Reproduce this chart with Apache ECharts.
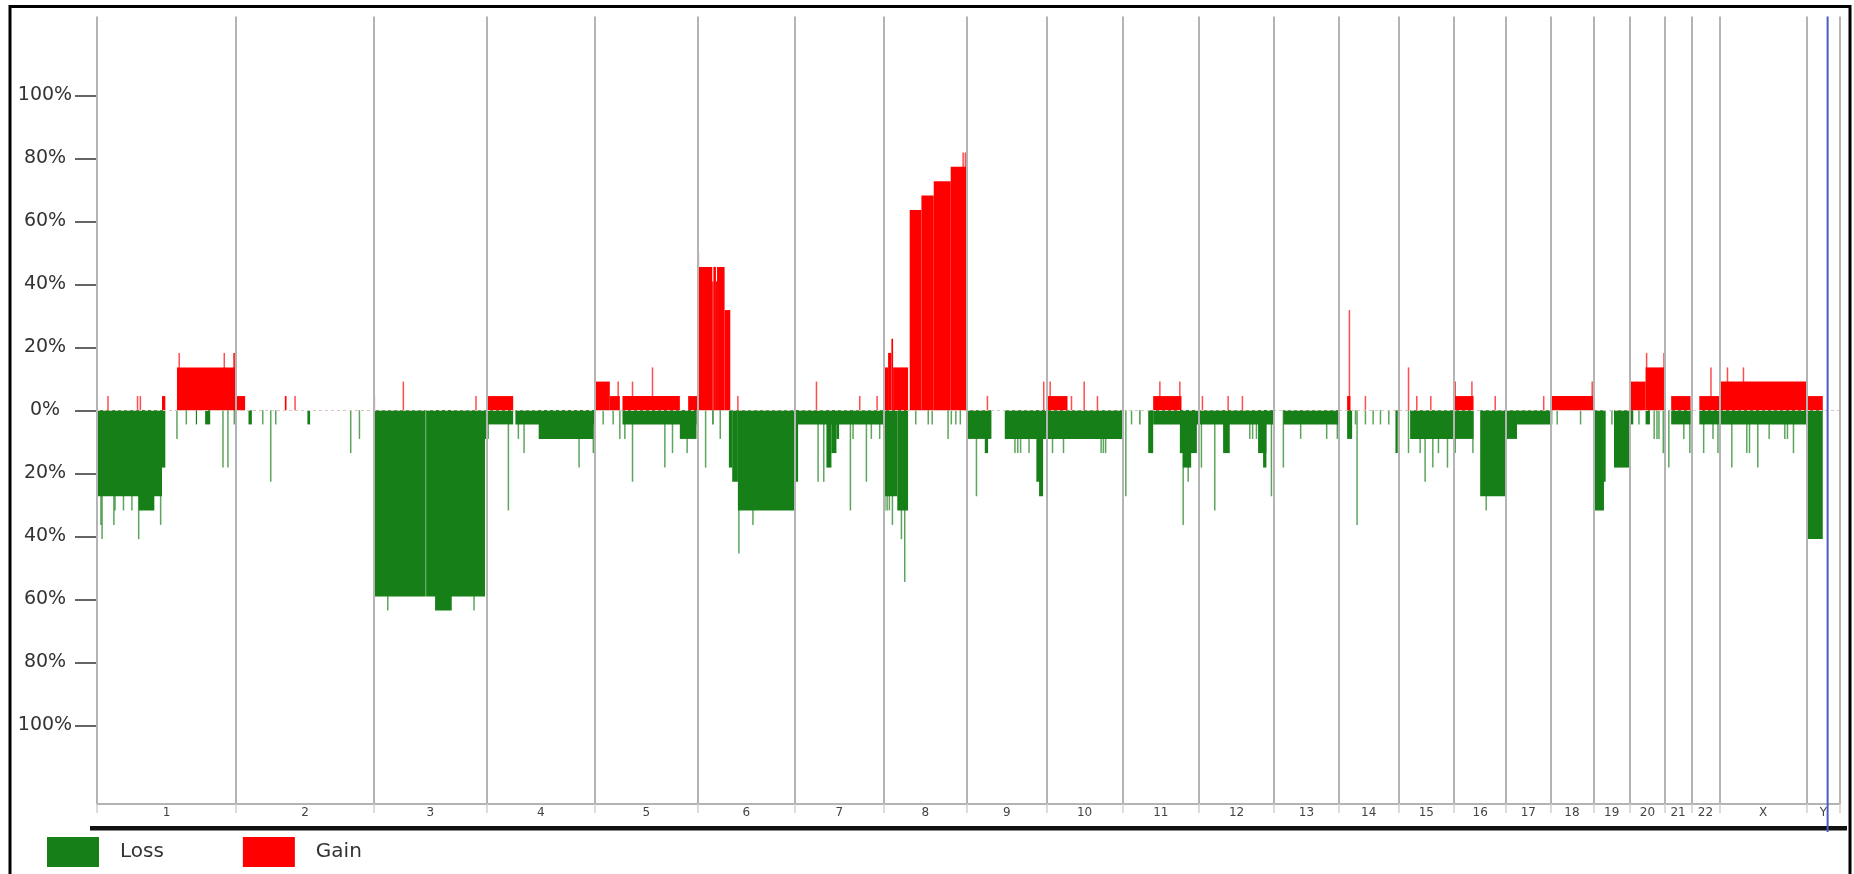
<!DOCTYPE html>
<html>
<head>
<meta charset="utf-8">
<script src="https://cdn.jsdelivr.net/npm/echarts@6/dist/echarts.min.js"></script>
<style>
  html, body { margin: 0; padding: 0; background: #ffffff; }
  #chart { width: 1854px; height: 874px; }
</style>
</head>
<body>
<div id="chart"></div>
<script>
// Chromosomes along the genome axis and their lengths (Mb)
const chromNames = ['1','2','3','4','5','6','7','8','9','10','11','12','13','14','15','16','17','18','19','20','21','22','X','Y'];
const chromLengthsMb = [247,245,200,192,183,172,158,148,141,135,136,133,115,106,99,92,79,76,65,62,47,50,155,59];

// Frequency ticks (%), drawn as absolute values on both sides of zero
const yTickValues = [-100,-80,-60,-40,-20,0,20,40,60,80,100];

// Copy-number segments: [chromosome, start Mb, end Mb, frequency %]
const gainSegments = [
  ['1',115.4,121.3,4.5], ['1',142,247,13.6],
  ['2',0,16,4.5], ['2',86.5,89.5,4.5],
  ['4',0,47,4.5],
  ['5',0,26.6,9.1], ['5',26.6,44.4,4.5], ['5',49.1,151,4.5], ['5',165.7,183,4.5],
  ['6',0,1.8,50], ['6',1.8,25.5,45.5], ['6',25.5,27.5,40.9], ['6',27.5,32,45.5], ['6',32,34,40.9], ['6',34,47.4,45.5], ['6',47.4,57.5,31.8],
  ['8',0,7.7,13.6], ['8',7.7,13.6,18.2], ['8',13.6,16.6,22.7], ['8',16.6,43.2,13.6],
  ['8',46.1,66.9,63.6], ['8',66.9,88.8,68.2], ['8',88.8,118.9,72.7], ['8',118.9,148,77.3],
  ['10',0,37.3,4.5],
  ['11',54.4,104.7,4.5],
  ['14',14.8,20.7,4.5],
  ['16',0,34.3,4.5],
  ['18',0,76,4.5],
  ['20',0,27.8,9.1], ['20',27.8,60.4,13.6],
  ['21',11.2,45.6,4.5],
  ['22',14.2,50,4.5],
  ['X',0,155,9.1],
  ['Y',0,28.4,4.5]
];

const lossSegments = [
  ['1',0,115.4,27.3], ['1',74,101.8,31.8], ['1',115.4,121.3,18.2], ['1',175.5,177.5,4.5], ['1',192,201,4.5],
  ['2',22,28,4.5], ['2',126.6,131.4,4.5],
  ['3',0,91.6,59.1], ['3',92.4,197,59.1], ['3',197,200,9.1], ['3',108.3,137.9,63.6],
  ['4',0,47,4.5], ['4',0,3.5,9.1], ['4',50.9,192,4.5], ['4',92.3,189.3,9.1],
  ['5',49.1,180.5,4.5], ['5',150.9,180.5,9.1],
  ['6',25.5,28,4.5], ['6',55,60.9,18.2], ['6',60.9,71,22.7], ['6',71,172,31.8],
  ['7',0,158,4.5], ['7',0,5.9,22.7], ['7',56.2,65.1,18.2], ['7',65.1,74,13.6], ['7',74,78.7,9.1],
  ['8',0,24,27.3], ['8',24,43.2,31.8],
  ['9',0,43.2,9.1], ['9',31.4,37.3,13.6], ['9',66.9,141,9.1], ['9',123,134.9,22.7], ['9',127.8,134.9,27.3],
  ['10',0,135,9.1],
  ['11',29.8,31.8,4.5], ['11',45.6,54.4,13.6], ['11',54.4,136,4.5], ['11',101.8,132,13.6], ['11',107.1,121.9,18.2],
  ['12',0,133,4.5], ['12',42.6,54.4,13.6], ['12',104.7,119.5,13.6], ['12',113.6,119.5,18.2],
  ['13',16.6,115,4.5],
  ['14',14.8,23.7,9.1], ['14',100.6,104.7,13.6],
  ['15',20.7,99,9.1],
  ['16',0,34.3,9.1], ['16',46.1,92,27.3],
  ['17',0,19.5,9.1], ['17',19.5,79,4.5],
  ['19',0,18.9,31.8], ['19',18.9,21.9,22.7], ['19',36.7,65,18.2],
  ['20',0,5.9,4.5], ['20',27.8,35.5,4.5],
  ['21',11.2,45.6,4.5],
  ['22',14.2,50,4.5],
  ['X',0,155,4.5],
  ['Y',0,28.4,40.9]
];

// Single-probe calls: [chromosome, position Mb, frequency %]
const gainSpikes = [
  ['1',19.5,4.5], ['1',72,4.5], ['1',77,4.5], ['1',146,18.2], ['1',226,18.2], ['1',243,18.2], ['1',244.5,18.2],
  ['2',104.7,4.5],
  ['3',0.5,4.5], ['3',52,9.1], ['3',181,4.5],
  ['5',41.4,9.1], ['5',66.9,9.1], ['5',102.4,13.6],
  ['6',71,4.5],
  ['7',38.5,9.1], ['7',115.4,4.5], ['7',146.2,4.5],
  ['8',141,81.8], ['8',145,81.8],
  ['9',36.1,4.5], ['9',136.1,9.1],
  ['10',6.5,9.1], ['10',44.4,4.5], ['10',66.9,9.1], ['10',90.5,4.5],
  ['11',66.3,9.1], ['11',101.8,9.1],
  ['12',5.9,4.5], ['12',51.5,4.5], ['12',76.9,4.5],
  ['14',18.9,31.8], ['14',47.3,4.5],
  ['15',17.8,13.6], ['15',32.5,4.5], ['15',57.4,4.5],
  ['16',1.8,9.1], ['16',31.4,9.1], ['16',72.8,4.5],
  ['17',66.9,4.5],
  ['18',74,9.1],
  ['20',29.6,18.2], ['20',60.4,18.2],
  ['22',34.9,13.6],
  ['X',14.2,13.6], ['X',42.6,13.6]
];

const lossSpikes = [
  ['1',9,40.9], ['1',7,36.4], ['1',30,36.4], ['1',32,31.8], ['1',47,31.8], ['1',62,31.8], ['1',74,40.9], ['1',113,36.4],
  ['1',142,9.1], ['1',158.6,4.5], ['1',223.7,18.2], ['1',232.5,18.2], ['1',243.8,4.5],
  ['2',47.3,4.5], ['2',61.5,22.7], ['2',70.4,4.5], ['2',203.5,13.6], ['2',219,9.1],
  ['3',24.3,63.6], ['3',177.5,63.6],
  ['4',38.5,31.8], ['4',56.2,9.1], ['4',66.3,13.6], ['4',164,18.2], ['4',189.3,13.6],
  ['5',14.8,4.5], ['5',32.5,4.5], ['5',44.4,9.1], ['5',53.3,9.1], ['5',66.9,22.7], ['5',124.3,18.2], ['5',137.9,13.6], ['5',163.9,13.6],
  ['6',13.7,18.2], ['6',39.7,9.1], ['6',72.8,45.5], ['6',97.7,36.4],
  ['7',41.4,22.7], ['7',51.5,22.7], ['7',98.8,31.8], ['7',103.5,9.1], ['7',127.2,22.7], ['7',136,9.1], ['7',150.8,9.1],
  ['8',2,31.8], ['8',6,31.8], ['8',10,31.8], ['8',15.4,36.4], ['8',31.4,40.9], ['8',37.3,54.5],
  ['8',56.8,4.5], ['8',79,4.5], ['8',86,4.5], ['8',114.2,9.1], ['8',120,4.5], ['8',128,4.5], ['8',136,4.5],
  ['9',16.6,27.3], ['9',85,13.6], ['9',90,13.6], ['9',95,13.6], ['9',110,13.6],
  ['10',10.7,13.6], ['10',30.2,13.6], ['10',97,13.6], ['10',101,13.6], ['10',105,13.6],
  ['11',5.9,27.3], ['11',16,4.5], ['11',107.7,36.4], ['11',116.6,22.7],
  ['12',4.1,18.2], ['12',27.8,31.8], ['12',90,9.1], ['12',95,9.1], ['12',101.8,9.1], ['12',128.4,27.3],
  ['13',16.6,18.2], ['13',47.3,9.1], ['13',93.5,9.1], ['13',112.4,9.1],
  ['14',29.6,4.5], ['14',32.5,36.4], ['14',47.3,4.5], ['14',61,4.5], ['14',74,4.5], ['14',88.8,4.5],
  ['15',17.8,13.6], ['15',38.5,13.6], ['15',47.3,22.7], ['15',61,18.2], ['15',71,13.6], ['15',87,18.2],
  ['16',1.8,13.6], ['16',33.1,13.6], ['16',56.8,31.8],
  ['18',2,4.5], ['18',11.8,4.5], ['18',53.3,4.5],
  ['19',33,4.5],
  ['20',16,4.5], ['20',43,9.1], ['20',48,9.1], ['20',51.5,9.1], ['20',59.2,13.6],
  ['21',7.1,18.2], ['21',33.7,9.1], ['21',44.4,13.6],
  ['22',21.9,13.6], ['22',38.5,9.1], ['22',47.3,13.6],
  ['X',21.9,18.2], ['X',48.5,13.6], ['X',53.3,13.6], ['X',68,18.2], ['X',88.2,9.1], ['X',116,9.1], ['X',120.7,9.1], ['X',131.4,13.6]
];

// Genome position of the highlighted marker line (Mb)
const markerMb = 3073;

const GAIN_COLOR = '#ff0000';
const LOSS_COLOR = '#177f17';

// Cumulative genome offsets
const offsets = {};
const boundaries = [0];
const centers = [];
let acc = 0;
chromNames.forEach((c, i) => {
  offsets[c] = acc;
  centers.push(acc + chromLengthsMb[i] / 2);
  acc += chromLengthsMb[i];
  boundaries.push(acc);
});
const genomeLength = acc;
const centerNames = new Map(centers.map((v, i) => [v, chromNames[i]]));

const toBars = (segs, sign) => segs.map(s => [offsets[s[0]] + s[1], offsets[s[0]] + s[2], sign * s[3]]);
const toSpikes = (sp, sign) => sp.map(s => [offsets[s[0]] + s[1], sign * s[2]]);

function renderBar(params, api) {
  const p0 = api.coord([api.value(0), 0]);
  const p1 = api.coord([api.value(1), api.value(2)]);
  const w = Math.max(p1[0] - p0[0], 1.2);
  return {
    type: 'rect',
    shape: { x: p0[0], y: Math.min(p0[1], p1[1]), width: w, height: Math.abs(p1[1] - p0[1]) },
    style: { fill: api.visual('color') }
  };
}

function renderSpike(params, api) {
  const p0 = api.coord([api.value(0), 0]);
  const p1 = api.coord([api.value(0), api.value(1)]);
  return {
    type: 'rect',
    shape: { x: p0[0] - 0.75, y: Math.min(p0[1], p1[1]), width: 1.5, height: Math.abs(p1[1] - p0[1]) },
    style: { fill: api.visual('color'), opacity: 0.7 }
  };
}

const chart = echarts.init(document.getElementById('chart'), null, { renderer: 'canvas' });

const option = {
  animation: false,
  backgroundColor: '#ffffff',
  grid: { left: 97, right: 14, top: 16.5, bottom: 70, containLabel: false },
  legend: {
    data: ['Loss', 'Gain'],
    left: 42, top: 832,
    icon: 'rect',
    itemWidth: 52, itemHeight: 30, itemGap: 79,
    selectedMode: false,
    textStyle: { fontFamily: 'DejaVu Sans', fontSize: 20, color: '#333333', padding: [0, 0, 0, 16] }
  },
  xAxis: {
    type: 'value', min: 0, max: genomeLength,
    axisLine: { show: true, onZero: false, lineStyle: { color: '#9a9a9a', width: 1.5 } },
    axisTick: { show: true, customValues: boundaries, length: 9, lineStyle: { color: '#cfcfcf', width: 1.5 } },
    axisLabel: {
      show: true, customValues: centers, margin: 3,
      formatter: v => centerNames.get(v) || '',
      fontFamily: 'DejaVu Sans', fontSize: 12, color: '#444444'
    },
    splitLine: { show: false }
  },
  yAxis: {
    type: 'value', min: -125, max: 125,
    axisLine: { show: false },
    axisTick: { show: true, customValues: yTickValues, length: 22, lineStyle: { color: '#333333', width: 1.5 } },
    axisLabel: {
      show: true, customValues: yTickValues, margin: 52, align: 'center',
      formatter: v => Math.abs(v) + '%',
      fontFamily: 'DejaVu Sans', fontSize: 19, color: '#333333'
    },
    splitLine: { show: false }
  },
  series: [
    {
      name: 'Loss', type: 'custom', renderItem: renderSpike, z: 2,
      itemStyle: { color: LOSS_COLOR }, data: toSpikes(lossSpikes, -1),
      encode: { x: 0, y: 1 }, silent: true
    },
    {
      name: 'Gain', type: 'custom', renderItem: renderSpike, z: 2,
      itemStyle: { color: GAIN_COLOR }, data: toSpikes(gainSpikes, 1),
      encode: { x: 0, y: 1 }, silent: true
    },
    {
      name: 'Loss', type: 'custom', renderItem: renderBar, z: 3,
      itemStyle: { color: LOSS_COLOR }, data: toBars(lossSegments, -1),
      encode: { x: [0, 1], y: 2 }, silent: true
    },
    {
      name: 'Gain', type: 'custom', renderItem: renderBar, z: 3,
      itemStyle: { color: GAIN_COLOR }, data: toBars(gainSegments, 1),
      encode: { x: [0, 1], y: 2 }, silent: true
    },
    {
      // zero reference line, behind the bars
      type: 'line', data: [], z: 1, silent: true,
      markLine: {
        silent: true, symbol: 'none', label: { show: false },
        lineStyle: { color: '#d9c4c4', type: [3, 3], width: 1 },
        data: [{ yAxis: 0 }]
      }
    },
    {
      // chromosome boundaries, over the bars
      type: 'line', data: [], z: 5, silent: true,
      markLine: {
        silent: true, symbol: 'none', label: { show: false },
        lineStyle: { color: '#b4b4b4', type: 'solid', width: 2 },
        data: boundaries.map(b => ({ xAxis: b }))
      }
    }
  ]
};

chart.setOption(option);

// Frame, baseline rule and marker line
const markerX = chart.convertToPixel({ xAxisIndex: 0 }, markerMb);
chart.setOption({
  graphic: [
    { type: 'rect', silent: true, z: 10,
      shape: { x: 10, y: 6.5, width: 1840, height: 900 },
      style: { fill: 'none', stroke: '#000000', lineWidth: 3 } },
    { type: 'rect', silent: true, z: 10,
      shape: { x: 90, y: 826, width: 1757, height: 4.5 },
      style: { fill: '#111111' } },
    { type: 'line', silent: true, z: 11,
      shape: { x1: markerX, y1: 16.5, x2: markerX, y2: 832 },
      style: { stroke: '#4a5cc0', lineWidth: 2 } }
  ]
});
</script>
</body>
</html>
